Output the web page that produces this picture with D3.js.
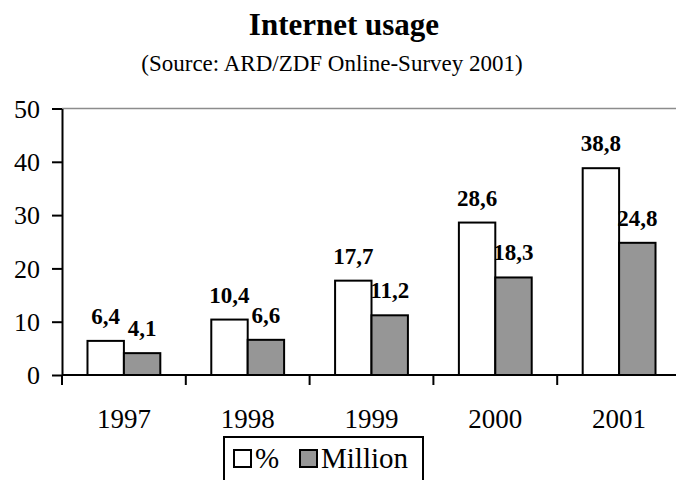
<!DOCTYPE html>
<html>
<head>
<meta charset="utf-8">
<script src="https://cdn.jsdelivr.net/npm/d3@7"></script>
<style>
  body { margin: 0; background: #fff; }
  text { font-family: "Liberation Serif", "Times New Roman", serif; fill: #000; }
</style>
</head>
<body>
<div id="chart"></div>
<script>
// data
var years = ['1997', '1998', '1999', '2000', '2001'];
var percent = [6.4, 10.4, 17.7, 28.6, 38.8];
var million = [4.1, 6.6, 11.2, 18.3, 24.8];
var seriesNames = ['%', 'Million'];
var seriesColors = ['#ffffff', '#969696'];
var yTicks = [0, 10, 20, 30, 40, 50];

var svgWidth = 676;
var svgHeight = 480;

var svg = d3.select('#chart')
  .append('svg')
  .attr('width', svgWidth)
  .attr('height', svgHeight);

// scales
var x0 = d3.scaleBand()
  .domain(years)
  .range([62, 681])
  .padding(0);

var x1 = d3.scaleBand()
  .domain(seriesNames)
  .range([0, x0.bandwidth()])
  .paddingInner(0)
  .paddingOuter(0.7);

var y = d3.scaleLinear()
  .domain([0, 50])
  .range([375, 108.5]);

var fmt = v => String(v).replace('.', ',');

// titles
svg.append('text')
  .attr('x', 344).attr('y', 35)
  .attr('text-anchor', 'middle')
  .attr('font-size', '31px')
  .attr('font-weight', 'bold')
  .text('Internet usage');

svg.append('text')
  .attr('x', 332).attr('y', 71)
  .attr('text-anchor', 'middle')
  .attr('font-size', '23px')
  .text('(Source: ARD/ZDF Online-Survey 2001)');

// grey top border of plot area
svg.append('line')
  .attr('x1', 62).attr('x2', svgWidth)
  .attr('y1', y(50)).attr('y2', y(50))
  .attr('stroke', '#8c8c8c')
  .attr('stroke-width', 1.5);

// bars
var rows = years.map((yr, i) => ({year: yr, values: [percent[i], million[i]]}));

var groups = svg.selectAll('.year')
  .data(rows)
  .enter()
  .append('g')
  .attr('class', 'year')
  .attr('transform', d => `translate(${x0(d.year)},0)`);

groups.selectAll('rect')
  .data(d => d.values.map((v, j) => ({key: seriesNames[j], value: v, color: seriesColors[j]})))
  .enter()
  .append('rect')
  .attr('x', d => x1(d.key))
  .attr('y', d => y(d.value))
  .attr('width', x1.bandwidth())
  .attr('height', d => y(0) - y(d.value))
  .attr('fill', d => d.color)
  .attr('stroke', '#000')
  .attr('stroke-width', 2);

groups.selectAll('.lbl')
  .data(d => d.values.map((v, j) => ({key: seriesNames[j], value: v})))
  .enter()
  .append('text')
  .attr('class', 'lbl')
  .attr('x', d => x1(d.key) + x1.bandwidth() / 2)
  .attr('y', d => y(d.value) - 17)
  .attr('text-anchor', 'middle')
  .attr('font-size', '23px')
  .attr('font-weight', 'bold')
  .text(d => fmt(d.value));

// y axis
var leftAxis = d3.axisLeft(y)
  .tickValues(yTicks)
  .tickSize(10)
  .tickSizeOuter(0)
  .tickPadding(12);

var yAxis = svg.append('g')
  .attr('transform', 'translate(62,0)')
  .call(leftAxis);
yAxis.select('.domain').attr('stroke-width', 2);
yAxis.selectAll('.tick line').attr('stroke-width', 2);
yAxis.selectAll('.tick text')
  .attr('font-size', '26px')
  .attr('font-family', '"Liberation Serif", serif')
  .attr('dy', '0.34em');

// x axis
svg.append('line')
  .attr('x1', 62).attr('x2', svgWidth)
  .attr('y1', y(0)).attr('y2', y(0))
  .attr('stroke', '#000')
  .attr('stroke-width', 2);

svg.selectAll('.xtick')
  .data(years)
  .enter()
  .append('line')
  .attr('class', 'xtick')
  .attr('x1', d => x0(d)).attr('x2', d => x0(d))
  .attr('y1', y(0)).attr('y2', y(0) + 10)
  .attr('stroke', '#000')
  .attr('stroke-width', 2);

svg.selectAll('.xlabel')
  .data(years)
  .enter()
  .append('text')
  .attr('class', 'xlabel')
  .attr('x', d => x0(d) + x0.bandwidth() / 2)
  .attr('y', 428)
  .attr('text-anchor', 'middle')
  .attr('font-size', '27px')
  .text(d => d);

// legend
var legend = svg.append('g');
legend.append('rect')
  .attr('x', 224).attr('y', 437)
  .attr('width', 199).attr('height', 60)
  .attr('fill', '#fff')
  .attr('stroke', '#000')
  .attr('stroke-width', 2);

var legX = [234, 300];
seriesNames.forEach((name, i) => {
  legend.append('rect')
    .attr('x', legX[i]).attr('y', 450)
    .attr('width', 17).attr('height', 17)
    .attr('fill', seriesColors[i])
    .attr('stroke', '#000')
    .attr('stroke-width', 2);
  legend.append('text')
    .attr('x', legX[i] + 21).attr('y', 468)
    .attr('font-size', '29px')
    .text(name);
});
</script>
</body>
</html>
